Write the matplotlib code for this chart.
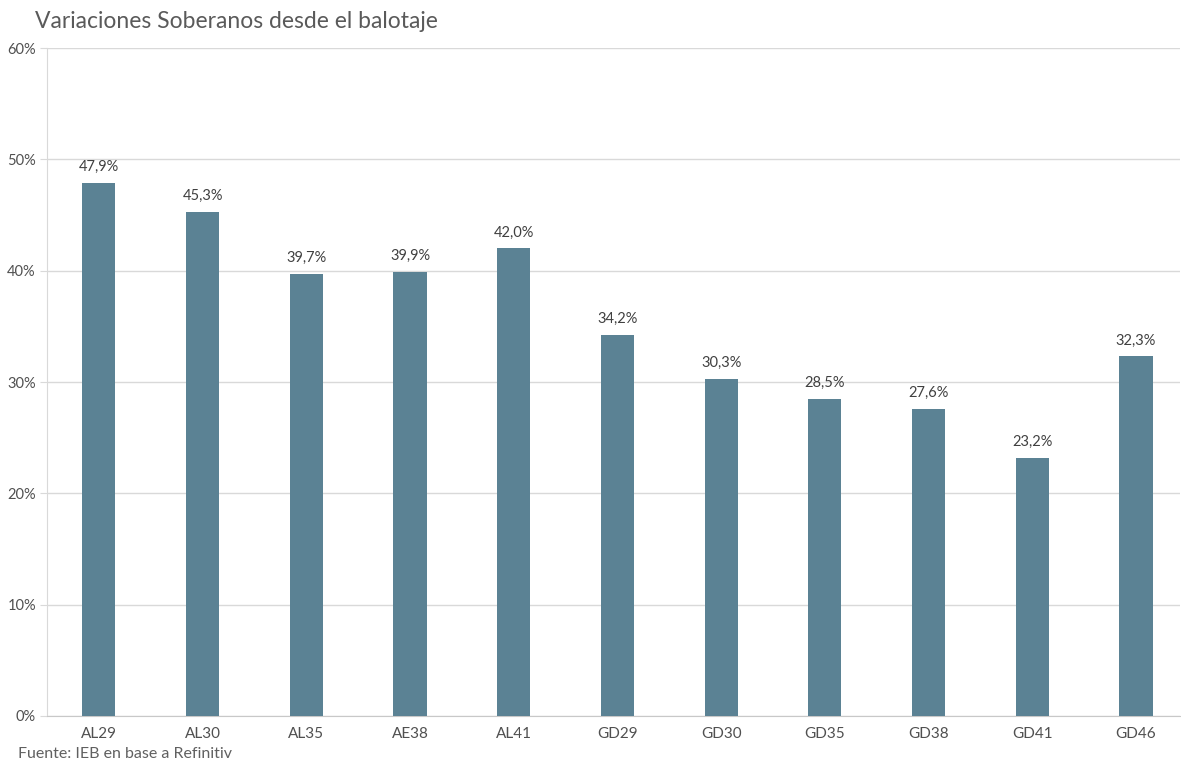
import matplotlib
matplotlib.use("Agg")
import matplotlib.pyplot as plt
from matplotlib.ticker import FuncFormatter

# datos
bonos = ["AL29", "AL30", "AL35", "AE38", "AL41", "GD29", "GD30", "GD35", "GD38", "GD41", "GD46"]
variacion = [47.9, 45.3, 39.7, 39.9, 42.0, 34.2, 30.3, 28.5, 27.6, 23.2, 32.3]
yticks = [0, 10, 20, 30, 40, 50, 60]

plt.rcParams["font.family"] = ["Lato", "DejaVu Sans"]

fig = plt.figure(figsize=(11.81, 7.66), dpi=100)
ax = fig.add_axes([0.0398, 0.0653, 0.959, 0.872])

x = range(len(bonos))
bars = ax.bar(x, variacion, width=0.32, color="#5B8294", zorder=3)

for xi, v in zip(x, variacion):
    ax.text(xi, v + 0.8, f"{v:.1f}%".replace(".", ","), ha="center", va="bottom",
            fontsize=10.5, color="#404040")

ax.set_ylim(0, 60)
ax.set_xlim(-0.50, 10.42)
ax.set_yticks(yticks)
ax.yaxis.set_major_formatter(FuncFormatter(lambda v, p: f"{v:.0f}%"))
ax.set_xticks(list(x))
ax.set_xticklabels(bonos)
ax.grid(axis="y", color="#d9d9d9", linewidth=1, zorder=0)

for s in ["top", "right"]:
    ax.spines[s].set_visible(False)
ax.spines["left"].set_color("#d9d9d9")
ax.spines["bottom"].set_color("#c8c8c8")
ax.tick_params(axis="y", length=5, color="#d9d9d9", labelsize=10.5, labelcolor="#505050", pad=3)
ax.tick_params(axis="x", length=0, labelsize=11, labelcolor="#505050", pad=8)

fig.text(0.03, 0.972, "Variaciones Soberanos desde el balotaje", fontsize=16.5,
         color="#5a5a5a", ha="left", va="center")
fig.text(0.015, 0.016, "Fuente: IEB en base a Refinitiv", fontsize=11.5,
         color="#606060", ha="left", va="center")

plt.savefig("out.png", dpi=100)
